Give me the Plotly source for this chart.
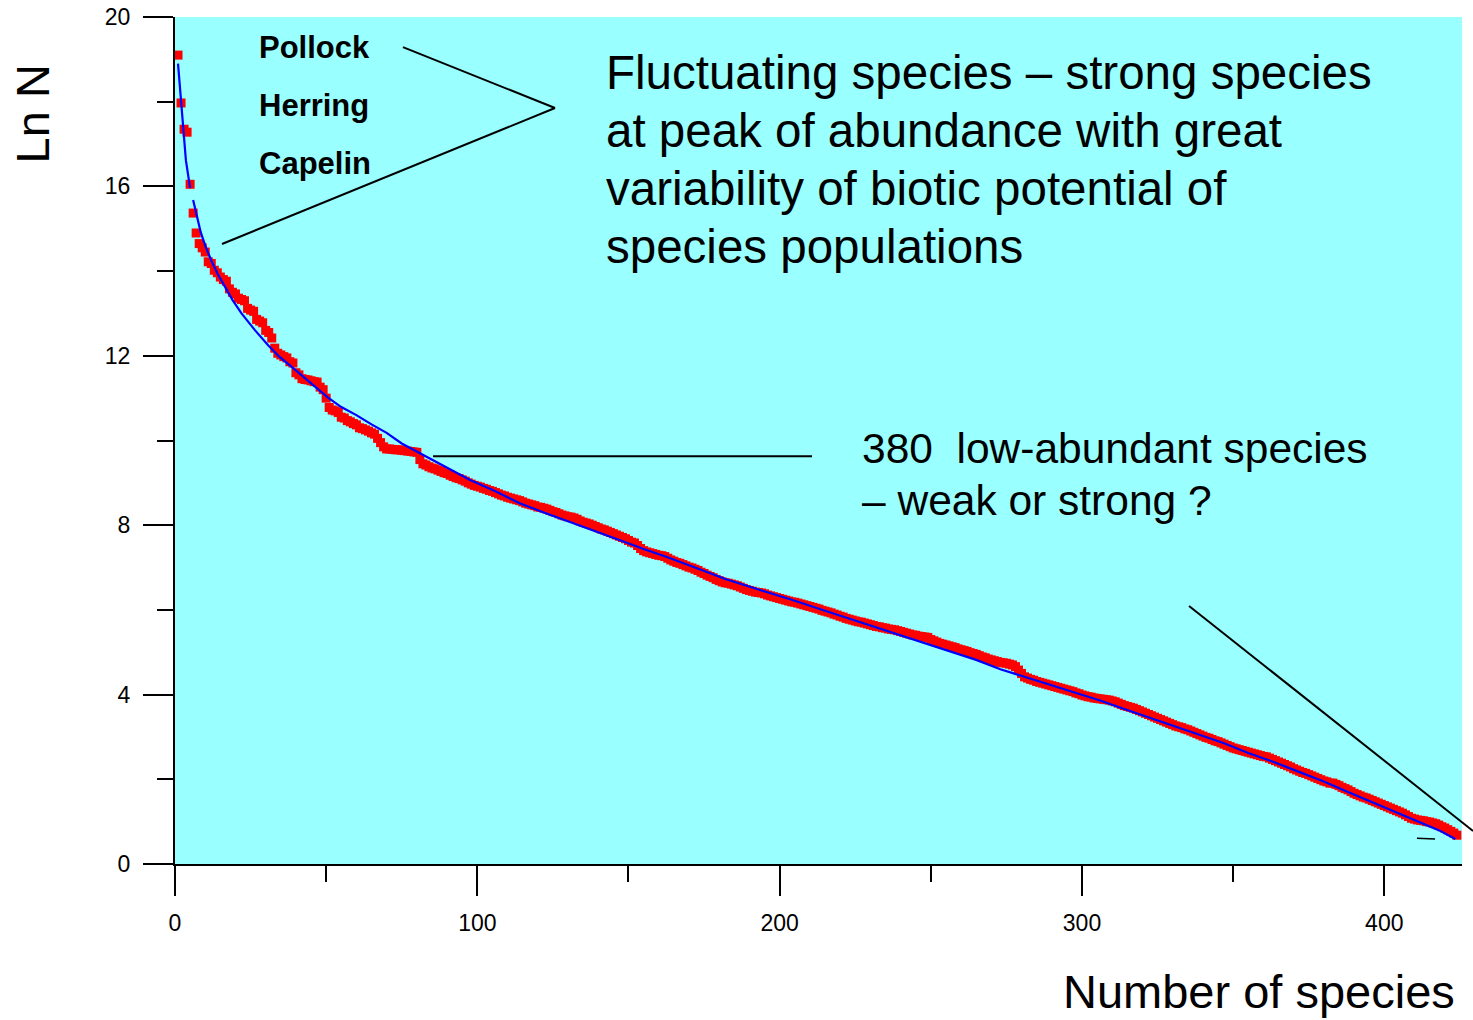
import plotly.graph_objects as go

# ---- data: ln N of species ranked by abundance ----
ln_n = [
    19.10, 17.97, 17.35, 17.28, 16.05, 15.37, 14.90, 14.65, 14.55, 14.45,
    14.22, 14.18, 14.02, 13.96, 13.86, 13.80, 13.76, 13.58, 13.50, 13.46,
    13.36, 13.33, 13.30, 13.12, 13.08, 13.05, 12.86, 12.82, 12.78, 12.60,
    12.55, 12.42, 12.18, 12.06, 12.02, 11.98, 11.95, 11.86, 11.83, 11.60,
    11.55, 11.46, 11.44, 11.43, 11.41, 11.39, 11.38, 11.26, 11.20, 11.00,
    10.78, 10.72, 10.70, 10.66, 10.55, 10.53, 10.47, 10.44, 10.40, 10.37,
    10.30, 10.28, 10.25, 10.22, 10.18, 10.15, 10.05, 9.95, 9.85, 9.80,
    9.80, 9.79, 9.78, 9.78, 9.77, 9.76, 9.75, 9.74, 9.73, 9.72,
    9.55, 9.45, 9.42, 9.38, 9.35, 9.33, 9.30, 9.27, 9.24, 9.22,
    9.18, 9.15, 9.12, 9.10, 9.07, 9.04, 9.00, 8.97, 8.94, 8.92,
    8.90, 8.87, 8.85, 8.82, 8.80, 8.77, 8.74, 8.71, 8.69, 8.66,
    8.64, 8.62, 8.60, 8.58, 8.55, 8.52, 8.50, 8.48, 8.46, 8.43,
    8.42, 8.40, 8.38, 8.35, 8.32, 8.30, 8.27, 8.24, 8.22, 8.20,
    8.19, 8.17, 8.14, 8.10, 8.07, 8.05, 8.03, 8.00, 7.97, 7.94,
    7.91, 7.89, 7.86, 7.83, 7.80, 7.77, 7.74, 7.71, 7.68, 7.64,
    7.60, 7.58, 7.52, 7.45, 7.40, 7.37, 7.35, 7.33, 7.31, 7.29,
    7.28, 7.26, 7.22, 7.18, 7.15, 7.12, 7.10, 7.07, 7.04, 7.01,
    6.99, 6.96, 6.93, 6.89, 6.86, 6.82, 6.79, 6.76, 6.72, 6.69,
    6.66, 6.64, 6.63, 6.61, 6.59, 6.57, 6.54, 6.51, 6.48, 6.46,
    6.44, 6.42, 6.41, 6.40, 6.38, 6.35, 6.33, 6.31, 6.29, 6.27,
    6.25, 6.23, 6.21, 6.19, 6.18, 6.16, 6.14, 6.12, 6.10, 6.08,
    6.06, 6.04, 6.02, 5.99, 5.97, 5.95, 5.93, 5.90, 5.88, 5.85,
    5.83, 5.80, 5.78, 5.76, 5.74, 5.72, 5.71, 5.69, 5.67, 5.65,
    5.63, 5.61, 5.60, 5.58, 5.57, 5.55, 5.54, 5.53, 5.51, 5.49,
    5.47, 5.45, 5.43, 5.41, 5.40, 5.38, 5.37, 5.36, 5.35, 5.30,
    5.27, 5.24, 5.21, 5.19, 5.17, 5.15, 5.13, 5.11, 5.08, 5.06,
    5.04, 5.02, 4.99, 4.97, 4.95, 4.92, 4.89, 4.87, 4.84, 4.82,
    4.80, 4.78, 4.76, 4.75, 4.74, 4.72, 4.70, 4.66, 4.58, 4.50,
    4.42, 4.39, 4.36, 4.34, 4.31, 4.29, 4.27, 4.25, 4.23, 4.21,
    4.19, 4.17, 4.15, 4.13, 4.11, 4.09, 4.07, 4.04, 4.02, 3.99,
    3.97, 3.95, 3.94, 3.92, 3.91, 3.90, 3.89, 3.88, 3.87, 3.85,
    3.83, 3.80, 3.77, 3.74, 3.72, 3.70, 3.68, 3.65, 3.62, 3.59,
    3.56, 3.53, 3.50, 3.47, 3.44, 3.41, 3.38, 3.35, 3.32, 3.29,
    3.26, 3.24, 3.22, 3.19, 3.17, 3.14, 3.11, 3.08, 3.05, 3.02,
    2.99, 2.97, 2.94, 2.91, 2.89, 2.86, 2.83, 2.80, 2.77, 2.74,
    2.72, 2.70, 2.68, 2.66, 2.64, 2.62, 2.60, 2.58, 2.56, 2.54,
    2.53, 2.50, 2.47, 2.44, 2.41, 2.38, 2.35, 2.32, 2.29, 2.25,
    2.22, 2.19, 2.16, 2.14, 2.11, 2.08, 2.05, 2.02, 1.99, 1.96,
    1.94, 1.91, 1.91, 1.88, 1.85, 1.81, 1.78, 1.75, 1.71, 1.67,
    1.64, 1.61, 1.58, 1.56, 1.53, 1.50, 1.47, 1.44, 1.41, 1.38,
    1.35, 1.32, 1.29, 1.26, 1.23, 1.20, 1.16, 1.12, 1.08, 1.06,
    1.04, 1.03, 1.02, 1.00, 0.99, 0.97, 0.95, 0.92, 0.88, 0.85,
    0.81, 0.77, 0.73, 0.68,
]
rank = list(range(1, len(ln_n) + 1))

# ---- fitted curve (blue) ----
fit_rank = [1, 2.2, 3.6, 5, None, 6, 7.2, 8.5, 10, 12, 14, 16.5, 19, 22, 26.5,
            30.8, 34.5, 38.6, 42.5, 46.3, 50.5, 55, 60, 65, 70, 75, 81, 89,
            97.6, 106, 114, 122, 130.7, 139, 147, 155, 162.7, 172, 182, 193.5,
            204, 215, 226.6, 235, 243, 250, 256.4, 265, 273, 281, 289.4, 298,
            306, 314, 322.5, 331, 339, 347, 355, 363, 372, 380, 388, 396, 405,
            412, 418, 423.5]
fit_ln = [18.9, 17.8, 16.62, 15.96, None, 15.68, 15.3, 14.92, 14.6, 14.25,
          13.95, 13.65, 13.32, 13.0, 12.6, 12.25, 11.98, 11.74, 11.5, 11.26,
          11.02, 10.79, 10.6, 10.38, 10.18, 9.93, 9.70, 9.38, 9.07, 8.8, 8.52,
          8.3, 8.08, 7.86, 7.65, 7.44, 7.25, 7.0, 6.73, 6.47, 6.24, 5.98, 5.71,
          5.52, 5.34, 5.17, 5.02, 4.82, 4.6, 4.42, 4.23, 4.04, 3.86, 3.66,
          3.45, 3.24, 3.05, 2.85, 2.62, 2.42, 2.17, 1.95, 1.7, 1.46, 1.2,
          0.98, 0.8, 0.59]

x_ticks = [0, 100, 200, 300, 400]
y_ticks = [0, 4, 8, 12, 16, 20]

FONT = "Liberation Sans, Arial, sans-serif"

fig = go.Figure()
fig.add_trace(go.Scatter(
    x=rank, y=ln_n, mode="markers",
    marker=dict(symbol="square", size=9, color="#FF0000", line=dict(width=0)),
    showlegend=False, hoverinfo="skip"))
fig.add_trace(go.Scatter(
    x=fit_rank, y=fit_ln, mode="lines",
    line=dict(color="#0000FF", width=2.2), connectgaps=False,
    showlegend=False, hoverinfo="skip"))

axis_common = dict(
    showgrid=False, zeroline=False, showline=True, linecolor="black",
    linewidth=2, ticks="outside", ticklen=30, tickwidth=2, tickcolor="black",
    tickfont=dict(family=FONT, size=23, color="black"), mirror=False,
    automargin=False)

fig.update_xaxes(range=[0, 425.7], tickvals=x_ticks, ticklabelstandoff=7,
                 minor=dict(dtick=50, tick0=0, ticks="outside", ticklen=16,
                            tickwidth=2, tickcolor="black", showgrid=False),
                 **axis_common)
fig.update_yaxes(range=[0, 20], tickvals=y_ticks, ticklabelstandoff=8,
                 minor=dict(dtick=2, tick0=0, ticks="outside", ticklen=16,
                            tickwidth=2, tickcolor="black", showgrid=False),
                 **axis_common)

line_style = dict(color="black", width=2)
shapes = [
    dict(type="line", xref="x", yref="y", x0=75.4, y0=19.29, x1=125.7, y1=17.85, line=line_style),
    dict(type="line", xref="x", yref="y", x0=125.7, y0=17.85, x1=15.55, y1=14.64, line=line_style),
    dict(type="line", xref="x", yref="y", x0=85.35, y0=9.63, x1=210.7, y1=9.63, line=line_style),
    dict(type="line", xref="paper", yref="paper", x0=0.7879, y0=0.3046, x1=1.0086, y1=0.039, line=line_style),
    dict(type="line", xref="x", yref="y", x0=410.8, y0=0.61, x1=416.8, y1=0.59, line=dict(color="black", width=1.5)),
]

ann = []
for name, yy in [("Pollock", 19.27), ("Herring", 17.92), ("Capelin", 16.55)]:
    ann.append(dict(x=27.1, y=yy, xref="x", yref="y", xanchor="left", yanchor="middle",
                    text="<b>%s</b>" % name, showarrow=False,
                    font=dict(family=FONT, size=31, color="black")))
big_lines = ["Fluctuating species \u2013 strong species",
             "at peak of abundance with great",
             "variability of biotic potential of",
             "species populations"]
for txt, yy in zip(big_lines, [18.68, 17.31, 15.94, 14.59]):
    ann.append(dict(x=142.0, y=yy, xref="x", yref="y", xanchor="left", yanchor="middle",
                    text=txt, showarrow=False,
                    font=dict(family=FONT, size=47.5, color="black")))
for txt, yy in [("380\u00a0\u00a0low-abundant species", 9.82), ("\u2013 weak or strong ?", 8.59)]:
    ann.append(dict(x=226.7, y=yy, xref="x", yref="y", xanchor="left", yanchor="middle",
                    text=txt, showarrow=False,
                    font=dict(family=FONT, size=42.5, color="black")))
ann.append(dict(x=0.9953, y=-0.1505, xref="paper", yref="paper", xanchor="right",
                yanchor="middle", text="Number of species", showarrow=False,
                borderpad=0, font=dict(family=FONT, size=47, color="black")))
ann.append(dict(x=-0.1100, y=0.8855, xref="paper", yref="paper", xanchor="center",
                yanchor="middle", text="Ln N", textangle=-90, showarrow=False,
                font=dict(family=FONT, size=47, color="black")))

fig.update_layout(
    width=1473, height=1020,
    margin=dict(l=175, r=11, t=17, b=156, pad=0),
    plot_bgcolor="#99FFFF", paper_bgcolor="white",
    shapes=shapes, annotations=ann, showlegend=False)

fig.write_html("out.html", include_plotlyjs=True, full_html=True,
               config={"displayModeBar": False})
